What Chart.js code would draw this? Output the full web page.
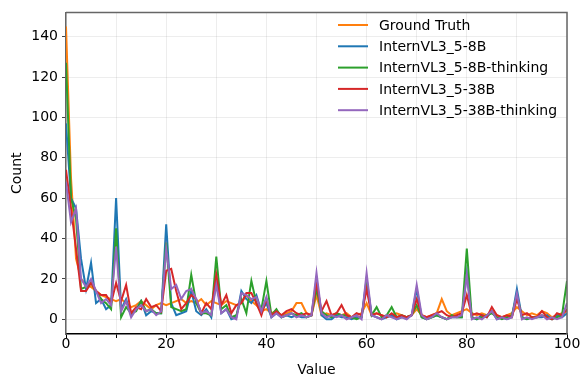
<!DOCTYPE html>
<html>
<head>
<meta charset="utf-8">
<script src="https://cdn.jsdelivr.net/npm/chart.js@4"></script>
<style>
  body { margin: 0; background: #fff; }
  canvas { display: block; }
</style>
</head>
<body>
<canvas id="myChart" width="581" height="379"></canvas>
<script>
// valores (x = 0..100)
const xValues = Array.from({ length: 101 }, (_, i) => i);

const groundTruth = [145,70,30,20,17,16,14,12,11,10, 9,10,8,6,7,9,7,5,7,8, 7,8,9,10,8,9,8,10,7,9, 8,7,9,8,7,8,12,9,7,4,
  5,3,4,2,3,4,8,8,3,2, 12,2,3,2,3,2,3,1,2,3, 8,2,3,2,1,2,3,2,1,2, 5,2,1,2,3,10,4,2,3,4, 5,3,2,3,2,4,2,1,2,3, 6,4,2,3,2,4,3,1,2,3, 4];
const intern8B = [97,60,55,30,15,28,8,10,5,7, 60,5,10,2,5,9,2,4,3,3, 47,8,2,3,4,14,4,2,5,1, 20,3,5,0,1,14,10,8,12,4,
  8,1,3,1,2,1,2,1,1,2, 20,2,0,0,2,1,1,0,1,1, 20,2,1,0,1,2,0,1,1,2, 15,1,0,1,2,1,0,1,1,1, 23,1,0,2,1,4,0,1,0,1, 15,1,0,1,1,1,2,0,2,1, 3];
const intern8BThinking = [127,60,50,15,16,18,14,10,8,5, 45,1,6,3,4,9,4,5,3,3, 38,6,5,4,5,22,8,3,3,2, 31,5,7,1,2,10,3,19,8,5,
  19,2,5,1,2,3,2,3,1,2, 15,4,2,1,3,2,2,1,0,1, 18,2,6,1,2,6,1,2,1,2, 7,1,0,1,2,1,0,2,1,1, 35,1,0,1,2,3,1,0,1,2, 12,1,0,1,1,2,1,0,1,2, 19];
const intern38B = [74,55,35,14,14,18,14,12,12,8, 18,9,17,3,6,5,10,6,7,4, 24,25,14,5,8,12,10,3,8,5, 22,7,12,3,7,8,13,13,8,2,
  10,2,4,2,4,5,3,2,3,2, 18,4,9,2,3,7,2,1,3,2, 15,2,3,2,1,3,1,2,1,2, 10,2,1,2,3,4,2,1,2,3, 12,2,3,2,1,6,2,1,2,1, 10,2,3,1,1,4,1,0,3,2, 5];
const intern38BThinking = [68,48,55,20,16,20,14,8,10,7, 36,4,9,1,5,7,4,5,2,4, 35,15,17,10,14,15,10,3,4,2, 17,3,5,1,0,13,12,10,11,4,
  11,1,3,1,2,3,1,2,1,2, 23,3,1,2,1,2,0,1,2,0, 23,2,1,0,2,1,0,1,0,2, 17,2,0,1,3,1,0,1,1,2, 22,0,1,0,2,4,0,1,0,1, 13,0,1,0,1,2,0,1,0,1, 8];

const seriesNames = ['Ground Truth', 'InternVL3_5-8B', 'InternVL3_5-8B-thinking', 'InternVL3_5-38B', 'InternVL3_5-38B-thinking'];
const seriesValues = [groundTruth, intern8B, intern8BThinking, intern38B, intern38BThinking];
const seriesColors = ['#ff7f0e', '#1f77b4', '#2ca02c', '#d62728', '#9467bd'];

const xTicks = [0, 10, 20, 30, 40, 50, 60, 70, 80, 90, 100];
const xLabelTicks = [0, 20, 40, 60, 80, 100];
const yTicks = [0, 20, 40, 60, 80, 100, 120, 140];

Chart.defaults.font.family = '"DejaVu Sans", sans-serif';
Chart.defaults.font.size = 14;
Chart.defaults.color = '#000';

// moldura superior/direita + legenda dentro da área do gráfico
const framePlugin = {
    id: 'frame',
    afterDraw(chart) {
        const ctx = chart.ctx;
        const a = chart.chartArea;
        ctx.save();
        ctx.strokeStyle = '#666';
        ctx.lineWidth = 1.5;
        ctx.beginPath();
        ctx.moveTo(a.left, a.top);
        ctx.lineTo(a.right, a.top);
        ctx.lineTo(a.right, a.bottom);
        ctx.stroke();

        ctx.font = '14px "DejaVu Sans", sans-serif';
        ctx.textBaseline = 'middle';
        seriesNames.forEach((name, i) => {
            const y = 25 + i * 21.3;
            ctx.strokeStyle = seriesColors[i];
            ctx.lineWidth = 2;
            ctx.beginPath();
            ctx.moveTo(338, y);
            ctx.lineTo(368, y);
            ctx.stroke();
            ctx.fillStyle = '#000';
            ctx.fillText(name, 379, y + 1);
        });
        ctx.restore();
    }
};

document.addEventListener('DOMContentLoaded', () => {
    const ctx = document.getElementById('myChart').getContext('2d');

    const datasets = seriesNames.map((name, i) => ({
        label: name,
        data: xValues.map((x, j) => ({ x: x, y: seriesValues[i][j] })),
        borderColor: seriesColors[i],
        backgroundColor: seriesColors[i],
        borderWidth: 2,
        pointRadius: 0,
        tension: 0,
        fill: false,
        order: seriesNames.length - i
    }));

    new Chart(ctx, {
        type: 'line',
        data: { datasets: datasets },
        plugins: [framePlugin],
        options: {
            responsive: false,
            animation: false,
            layout: { padding: { left: 0, top: 6, right: 14, bottom: 0 } },
            plugins: {
                legend: { display: false },
                tooltip: { enabled: false }
            },
            scales: {
                x: {
                    type: 'linear',
                    min: 0,
                    max: 100,
                    afterBuildTicks: (scale) => { scale.ticks = xTicks.map(v => ({ value: v })); },
                    afterFit: (scale) => {
                        scale.height = 45;
                        scale.paddingLeft = 0;
                        scale.paddingRight = 0;
                    },
                    ticks: {
                        padding: -2,
                        maxRotation: 0,
                        callback: (v) => xLabelTicks.includes(v) ? String(v) : ''
                    },
                    grid: { color: 'rgba(0,0,0,0.07)', lineWidth: 1, tickLength: 4, tickColor: '#000' },
                    border: { color: '#000', width: 1.5 },
                    title: { display: true, text: 'Value', padding: { top: 1, bottom: 0 } }
                },
                y: {
                    min: -7.3,
                    max: 152,
                    afterBuildTicks: (scale) => { scale.ticks = yTicks.map(v => ({ value: v })); },
                    afterFit: (scale) => { scale.width = 66; },
                    ticks: { padding: 4 },
                    grid: { color: 'rgba(0,0,0,0.07)', lineWidth: 1, tickLength: 4, tickColor: '#444' },
                    border: { color: '#666', width: 1.5 },
                    title: { display: true, text: 'Count', padding: { top: 9, bottom: 0 } }
                }
            }
        }
    });
});
</script>
</body>
</html>
